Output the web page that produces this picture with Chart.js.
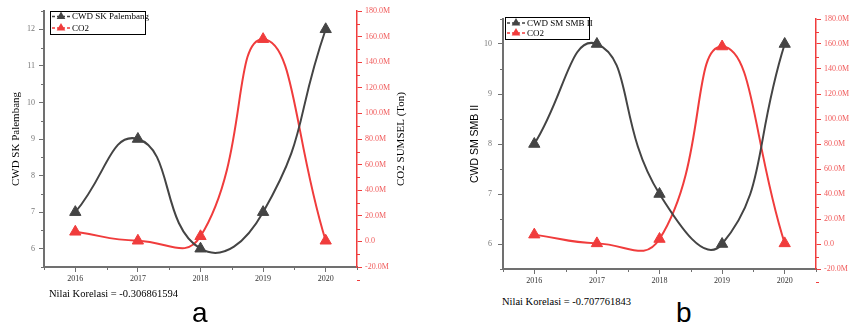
<!DOCTYPE html>
<html>
<head>
<meta charset="utf-8">
<script src="https://cdn.jsdelivr.net/npm/chart.js@4"></script>
<style>
  body { margin: 0; background: #fff; width: 854px; height: 328px; overflow: hidden; position: relative; }
  .box { position: absolute; }
  .note { position: absolute; font-family: 'Liberation Serif', serif; font-size: 10.5px; line-height: 1; color: #000; white-space: nowrap; }
  .letter { position: absolute; font-family: 'Liberation Sans', Arial, sans-serif; font-size: 28px; line-height: 1; color: #000; }
</style>
</head>
<body>
<div class="box" style="left:0;top:0;width:430px;height:290px"><canvas id="chartA"></canvas></div>
<div class="box" style="left:440px;top:0;width:414px;height:290px"><canvas id="chartB"></canvas></div>
<div class="note" style="left:49px;top:289px">Nilai Korelasi = -0.306861594</div>
<div class="letter" style="left:192px;top:299px">a</div>
<div class="note" style="left:502px;top:297px">Nilai Korelasi = -0.707761843</div>
<div class="letter" style="left:676px;top:299px">b</div>

<script>
// data
const years = [2016, 2017, 2018, 2019, 2020];
const cwdPalembang = [7, 9, 6, 7, 12];
const cwdSmb = [8, 10, 7, 6, 10];
const co2Sumsel = [7.5e6, 0.5e6, 4e6, 158e6, 0.5e6];

const GREY_AXIS = '#707070';
const CWD_COLOR = '#444444';
const CO2_COLOR = '#f03c3c';
const SERIF = "'Liberation Serif', 'Times New Roman', serif";
const SANS = "'Liberation Sans', Arial, sans-serif";

function toPoints(values) {
    return years.map((yr, i) => ({ x: yr, y: values[i] }));
}

// labelled ticks only on whole numbers
function integerTicks(scale) {
    const out = [];
    for (let v = Math.ceil(scale.min); v <= Math.floor(scale.max); v++) out.push({ value: v });
    scale.ticks = out;
}

// short ticks half way between the labelled ones
function drawMinor(ctx, scale, area, len, color, side) {
    const vals = scale.ticks.map(t => t.value);
    if (vals.length < 2) return;
    const step = vals[1] - vals[0];
    let v = vals[0] - step / 2;
    while (v - step >= scale.min - step * 1e-6) v -= step;
    ctx.save();
    ctx.strokeStyle = color;
    ctx.lineWidth = 1;
    ctx.beginPath();
    for (; v <= scale.max + step * 1e-6; v += step) {
        const p = Math.round(scale.getPixelForValue(v)) + 0.5;
        if (side === 'bottom') { ctx.moveTo(p, area.bottom); ctx.lineTo(p, area.bottom + len); }
        if (side === 'left') { ctx.moveTo(area.left, p); ctx.lineTo(area.left - len, p); }
        if (side === 'right') { ctx.moveTo(area.right, p); ctx.lineTo(area.right + len, p); }
    }
    ctx.stroke();
    ctx.restore();
}

function drawTriangle(ctx, x, y, r, color) {
    ctx.beginPath();
    ctx.moveTo(x, y - r);
    ctx.lineTo(x + r * 0.866, y + r * 0.5);
    ctx.lineTo(x - r * 0.866, y + r * 0.5);
    ctx.closePath();
    ctx.fillStyle = color;
    ctx.fill();
}

const extras = {
    id: 'extras',
    afterDraw(chart, args, opts) {
        const ctx = chart.ctx;
        const area = chart.chartArea;
        drawMinor(ctx, chart.scales.x, area, 3, GREY_AXIS, 'bottom');
        drawMinor(ctx, chart.scales.y, area, 3, GREY_AXIS, 'left');
        drawMinor(ctx, chart.scales.y1, area, 3, CO2_COLOR, 'right');

        // legend with a frame
        const lb = opts.legend;
        const bx = area.left + lb.dx, by = area.top + lb.dy;
        ctx.save();
        ctx.fillStyle = '#fff';
        ctx.fillRect(bx, by, lb.w, lb.h);
        ctx.strokeStyle = '#000';
        ctx.lineWidth = 1;
        ctx.strokeRect(bx + 0.5, by + 0.5, lb.w, lb.h);
        ctx.font = lb.fontSize + 'px ' + SERIF;
        ctx.textBaseline = 'middle';
        chart.data.datasets.forEach((ds, i) => {
            const ry = by + lb.firstRow + i * lb.rowGap;
            ctx.strokeStyle = ds.borderColor;
            ctx.lineWidth = 1.5;
            ctx.setLineDash([3, 2]);
            ctx.beginPath();
            ctx.moveTo(bx + 2, ry);
            ctx.lineTo(bx + 20, ry);
            ctx.stroke();
            ctx.setLineDash([]);
            drawTriangle(ctx, bx + 11, ry, 5, ds.borderColor);
            ctx.fillStyle = '#000';
            ctx.fillText(ds.label, bx + 22, ry + 0.5);
        });
        ctx.restore();

        // right axis title reads bottom to top
        if (opts.rightTitle) {
            ctx.save();
            ctx.translate(area.right + opts.rightTitleDx, (area.top + area.bottom) / 2);
            ctx.rotate(-Math.PI / 2);
            ctx.font = '11px ' + SERIF;
            ctx.fillStyle = '#000';
            ctx.textAlign = 'center';
            ctx.textBaseline = 'middle';
            ctx.fillText(opts.rightTitle, 0, 0);
            ctx.restore();
        }
    }
};

function makeChart(id, cwdLabel, cwdValues, s) {
    const ctx = document.getElementById(id).getContext('2d');
    return new Chart(ctx, {
        type: 'line',
        data: {
            datasets: [{
                label: cwdLabel,
                data: toPoints(cwdValues),
                yAxisID: 'y',
                borderColor: CWD_COLOR,
                backgroundColor: CWD_COLOR,
                borderWidth: 2,
                pointStyle: 'triangle',
                pointRadius: 6.5,
                pointBorderWidth: 1,
                tension: 0.5
            }, {
                label: 'CO2',
                data: toPoints(co2Sumsel),
                yAxisID: 'y1',
                borderColor: CO2_COLOR,
                backgroundColor: CO2_COLOR,
                borderWidth: 2,
                pointStyle: 'triangle',
                pointRadius: 6.5,
                pointBorderWidth: 1,
                tension: 0.5
            }]
        },
        options: {
            responsive: true,
            maintainAspectRatio: false,
            animation: false,
            layout: { padding: { top: s.top, left: 0, right: 0, bottom: 0 } },
            plugins: {
                legend: { display: false },
                tooltip: { enabled: false },
                extras: {
                    legend: s.legend,
                    rightTitle: s.rightTitle,
                    rightTitleDx: 44
                }
            },
            scales: {
                x: {
                    type: 'linear',
                    min: 2015.5,
                    max: 2020.5,
                    afterBuildTicks: integerTicks,
                    afterFit: (scale) => { scale.height = s.bottom; },
                    border: { display: true, color: GREY_AXIS, width: 2 },
                    grid: { drawOnChartArea: false, drawTicks: true, tickLength: 5, tickColor: GREY_AXIS },
                    ticks: {
                        padding: 2,
                        color: '#333',
                        font: { family: SERIF, size: 8 },
                        callback: (v) => String(v)
                    }
                },
                y: {
                    position: 'left',
                    min: s.yMin,
                    max: s.yMax,
                    afterBuildTicks: integerTicks,
                    afterFit: (scale) => { scale.width = s.leftWidth; },
                    border: { display: true, color: GREY_AXIS, width: 2 },
                    grid: { drawOnChartArea: false, drawTicks: true, tickLength: 5, tickColor: GREY_AXIS },
                    title: {
                        display: true,
                        text: cwdLabel,
                        color: '#000',
                        font: { family: s.titleFamily, size: s.titleSize },
                        padding: { top: s.titlePad, bottom: 0 }
                    },
                    ticks: {
                        padding: s.leftPad,
                        color: '#777',
                        font: { family: SERIF, size: 8 },
                        callback: (v) => String(v)
                    }
                },
                y1: {
                    position: 'right',
                    min: -20e6,
                    max: 180e6,
                    afterFit: (scale) => { scale.width = s.rightWidth; },
                    border: { display: true, color: CO2_COLOR, width: 1.5 },
                    grid: { drawOnChartArea: false, drawTicks: true, tickLength: 5, tickColor: CO2_COLOR },
                    ticks: {
                        stepSize: 20e6,
                        padding: 3,
                        color: '#f05a5a',
                        font: { family: SERIF, size: 8 },
                        callback: (v) => v === 0 ? '0.0' : (v / 1e6).toFixed(1) + 'M'
                    }
                }
            }
        },
        plugins: [extras]
    });
}

makeChart('chartA', 'CWD SK Palembang', cwdPalembang, {
    top: 11, bottom: 23, leftWidth: 44, rightWidth: 73,
    yMin: 5.5, yMax: 12.5,
    titleFamily: SERIF, titleSize: 11, titlePad: 10, leftPad: 4,
    rightTitle: 'CO2 SUMSEL (Ton)',
    legend: { dx: 6, dy: 0, w: 95, h: 23, firstRow: 5.5, rowGap: 11.5, fontSize: 9 }
});

makeChart('chartB', 'CWD SM SMB II', cwdSmb, {
    top: 19, bottom: 21, leftWidth: 63, rightWidth: 38,
    yMin: 5.5, yMax: 10.5,
    titleFamily: SANS, titleSize: 10.5, titlePad: 29, leftPad: 6,
    rightTitle: '',
    legend: { dx: 2, dy: -2, w: 84, h: 22, firstRow: 6, rowGap: 10, fontSize: 9 }
});
</script>
</body>
</html>
